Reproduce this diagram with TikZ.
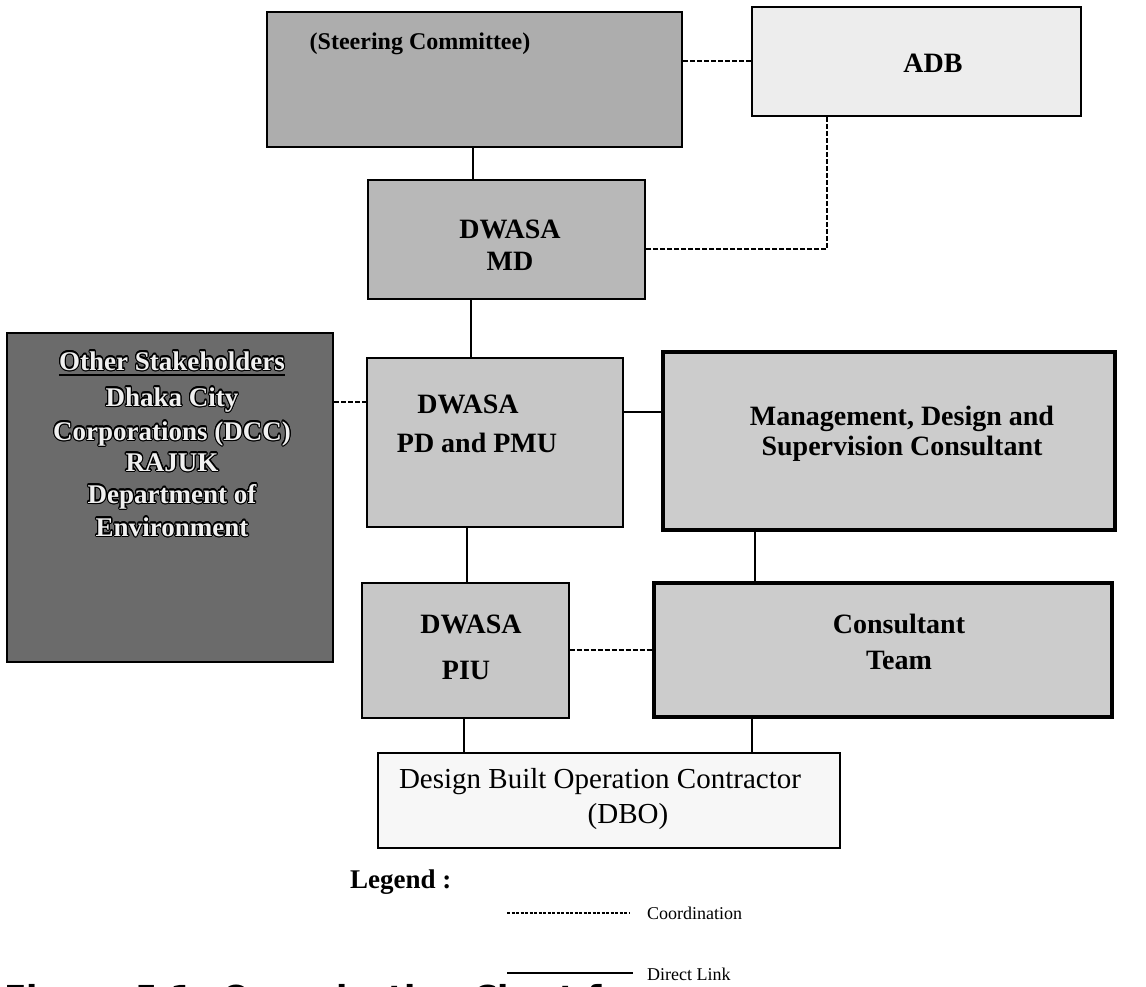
\documentclass[tikz,border=0pt]{standalone}
\usepackage{fontspec}
\setmainfont{Liberation Serif}
\newfontfamily\capfont{DejaVu Sans}
\usepackage{contour}
\contourlength{1.1pt}
\usetikzlibrary{calc}
\begin{document}
\begin{tikzpicture}[x=1pt,y=-1pt,
  box/.style={draw=black, rectangle, inner sep=0pt, line width=1.2pt},
  bt/.style={font=\bfseries\fontsize{28}{30}\selectfont, anchor=base, inner sep=0pt},
  rt/.style={font=\fontsize{29}{31}\selectfont, anchor=base, inner sep=0pt},
  st/.style={font=\bfseries\fontsize{27}{29}\selectfont, anchor=base, inner sep=0pt},
  lt/.style={font=\fontsize{18}{20}\selectfont, anchor=base west, inner sep=0pt},
  direct/.style={line width=1.1pt},
  coord/.style={line width=1.4pt, dash pattern=on 5pt off 2pt},
]
\useasboundingbox[fill=white] (0,0) rectangle (1146,986);

% boxes
\node[box, fill=black!32, line width=2.5pt, minimum width=415pt, minimum height=135pt] (steer) at (474.5,79.5) {};
\node[box, fill=black!7, line width=1.5pt, minimum width=329pt, minimum height=109pt] (adb) at (916.5,61.5) {};
\node[box, fill=black!28, line width=1.5pt, minimum width=277pt, minimum height=119pt] (md) at (506.5,239.5) {};
\node[box, fill=black!22, line width=1.1pt, minimum width=256pt, minimum height=169pt] (pmu) at (495,442.5) {};
\node[box, fill=black!58, line width=2.5pt, minimum width=326pt, minimum height=329pt] (stake) at (170,497.5) {};
\node[box, fill=black!20, line width=4pt, minimum width=452pt, minimum height=178pt] (mgmt) at (889,441) {};
\node[box, fill=black!20, line width=4pt, minimum width=458pt, minimum height=134pt] (cons) at (883,650) {};
\node[box, fill=black!22, line width=1.1pt, minimum width=207pt, minimum height=135pt] (piu) at (465.5,650.5) {};
\node[box, fill=black!3, line width=1.5pt, minimum width=462pt, minimum height=95pt] (dbo) at (609,800.5) {};

% texts
\node[bt, font=\bfseries\fontsize{24}{26}\selectfont] (steerT) at (420,49) {(Steering Committee)};
\node[bt] (adbT) at (933,72) {ADB};
\node[bt] (mdT1) at (510,238) {DWASA};
\node[bt] (mdT2) at (510,270) {MD};
\node[bt] (pmuT1) at (468,413) {DWASA};
\node[bt] (pmuT2) at (477,452) {PD and PMU};
\node[bt] (mgmtT1) at (902,425) {Management, Design and};
\node[bt] (mgmtT2) at (902,455) {Supervision Consultant};
\node[bt] (piuT1) at (471,633) {DWASA};
\node[bt] (piuT2) at (466,679) {PIU};
\node[bt] (consT1) at (899,633) {Consultant};
\node[bt] (consT2) at (899,669) {Team};
\node[rt] (dboT1) at (600,788) {Design Built Operation Contractor};
\node[rt] (dboT2) at (628,823) {(DBO)};

\node[st] (stT1) at (172,370) {\contour{black}{\textcolor{black!6}{Other Stakeholders}}};
\draw[line width=1.8pt] ([yshift=-5pt]stT1.base west) -- ([yshift=-5pt]stT1.base east);
\node[st] (stT2) at (172,406) {\contour{black}{\textcolor{black!6}{Dhaka City}}};
\node[st] (stT3) at (172,440) {\contour{black}{\textcolor{black!6}{Corporations (DCC)}}};
\node[st] (stT4) at (172,471) {\contour{black}{\textcolor{black!6}{RAJUK}}};
\node[st] (stT5) at (172,503) {\contour{black}{\textcolor{black!6}{Department of}}};
\node[st] (stT6) at (172,536) {\contour{black}{\textcolor{black!6}{Environment}}};

% connector guides
\coordinate (xa) at (473,0);
\coordinate (xb) at (471,0);
\coordinate (xc) at (467,0);
\coordinate (xd) at (464,0);
\coordinate (xe) at (755,0);
\coordinate (xf) at (752,0);
\coordinate (xg) at (827,0);
\coordinate (ya) at (0,61);
\coordinate (yb) at (0,249);
\coordinate (yc) at (0,402);
\coordinate (yd) at (0,412);
\coordinate (ye) at (0,650);

% direct links
\draw[direct] (steer.south -| xa) -- (md.north -| xa);
\draw[direct] (md.south -| xb) -- (pmu.north -| xb);
\draw[direct] (pmu.south -| xc) -- (piu.north -| xc);
\draw[direct] (piu.south -| xd) -- (dbo.north -| xd);
\draw[direct] (mgmt.south -| xe) -- (cons.north -| xe);
\draw[direct] (cons.south -| xf) -- (dbo.north -| xf);
\draw[direct, line width=2.5pt] (pmu.east |- yd) -- (mgmt.west |- yd);

% coordination links
\draw[coord] (steer.east |- ya) -- (adb.west |- ya);
\draw[coord] (adb.south -| xg) |- (md.east |- yb);
\draw[coord] (stake.east |- yc) -- (pmu.west |- yc);
\draw[coord] (piu.east |- ye) -- (cons.west |- ye);

% legend
\node[bt, anchor=base west, font=\bfseries\fontsize{27}{29}\selectfont] (legT) at (350,888) {Legend :};
\coordinate (la) at (507,913);
\coordinate (lb) at (630,913);
\coordinate (lc) at (507,973);
\coordinate (ld) at (633,973);
\draw[line width=1.1pt, dash pattern=on 3pt off 1.5pt] (la) -- (lb);
\draw[line width=1.1pt] (lc) -- (ld);
\node[lt] (coT) at (647,919) {Coordination};
\node[lt] (dlT) at (647,980) {Direct Link};

% caption, cut by the lower edge
\begin{scope}
\clip (0,0) rectangle (1146,986);
\node[anchor=base west, inner sep=0pt, font=\capfont\bfseries\fontsize{33}{35}\selectfont] (cap) at (4,1009) {Figure 5.1: Organization Chart for};
\end{scope}
\end{tikzpicture}
\end{document}
